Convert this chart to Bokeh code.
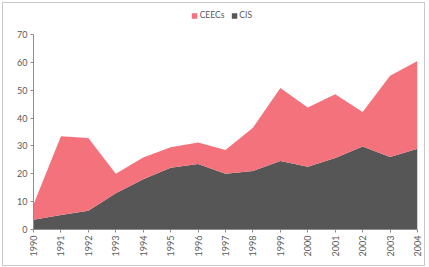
from bokeh.plotting import figure
from bokeh.models import Legend, LegendItem, FixedTicker, ColumnDataSource
from bokeh.embed import file_html
from bokeh.resources import INLINE

years = [1990, 1991, 1992, 1993, 1994, 1995, 1996, 1997, 1998, 1999, 2000, 2001, 2002, 2003, 2004]
cis = [3.5, 5.2, 6.7, 13.0, 18.0, 22.2, 23.5, 20.0, 21.0, 24.6, 22.5, 25.7, 29.8, 26.0, 29.0]
ceecs = [5.5, 28.3, 26.1, 7.0, 7.8, 7.3, 7.7, 8.5, 15.5, 26.2, 21.3, 22.8, 12.4, 29.2, 31.5]
y_ticks = [0, 10, 20, 30, 40, 50, 60, 70]

src = ColumnDataSource(dict(year=years, CIS=cis, CEECs=ceecs))

FONT = "Lato"
p = figure(width=423, height=264, x_range=(1990, 2004), y_range=(0, 79.3),
           output_backend="svg", toolbar_location=None,
           min_border_left=30, min_border_right=9, min_border_top=5, min_border_bottom=38)
p.styles = {"border": "1px solid #c8c8c8", "box-sizing": "border-box", "margin": "2px"}

rs = p.varea_stack(["CIS", "CEECs"], x="year", source=src, color=["#565656", "#f4727b"])

p.xgrid.visible = False
p.ygrid.visible = False
p.outline_line_color = None

p.xaxis.ticker = FixedTicker(ticks=years)
p.xaxis.major_label_orientation = 1.5708
p.yaxis.ticker = FixedTicker(ticks=y_ticks)
p.yaxis.bounds = (0, 70)
for ax in (p.xaxis[0], p.yaxis[0]):
    ax.axis_line_color = "#8c8c8c"
    ax.major_tick_line_color = "#8c8c8c"
    ax.minor_tick_line_color = None
    ax.major_tick_in = 0
    ax.major_tick_out = 3
    ax.major_label_text_font = FONT
    ax.major_label_text_font_size = "9px"
    ax.major_label_text_color = "#595959"
    ax.major_label_standoff = 3

legend = Legend(items=[LegendItem(label="CEECs", renderers=[rs[1]]),
                       LegendItem(label="CIS", renderers=[rs[0]])],
                orientation="horizontal", location="top_center",
                label_text_font=FONT, label_text_font_size="8.5px", label_text_color="#595959",
                glyph_width=7, glyph_height=7, label_standoff=2, spacing=6,
                padding=0, margin=2, border_line_color=None, background_fill_alpha=0,
                label_height=8)
p.add_layout(legend, "center")

open("out.html", "w").write(file_html(p, INLINE))
